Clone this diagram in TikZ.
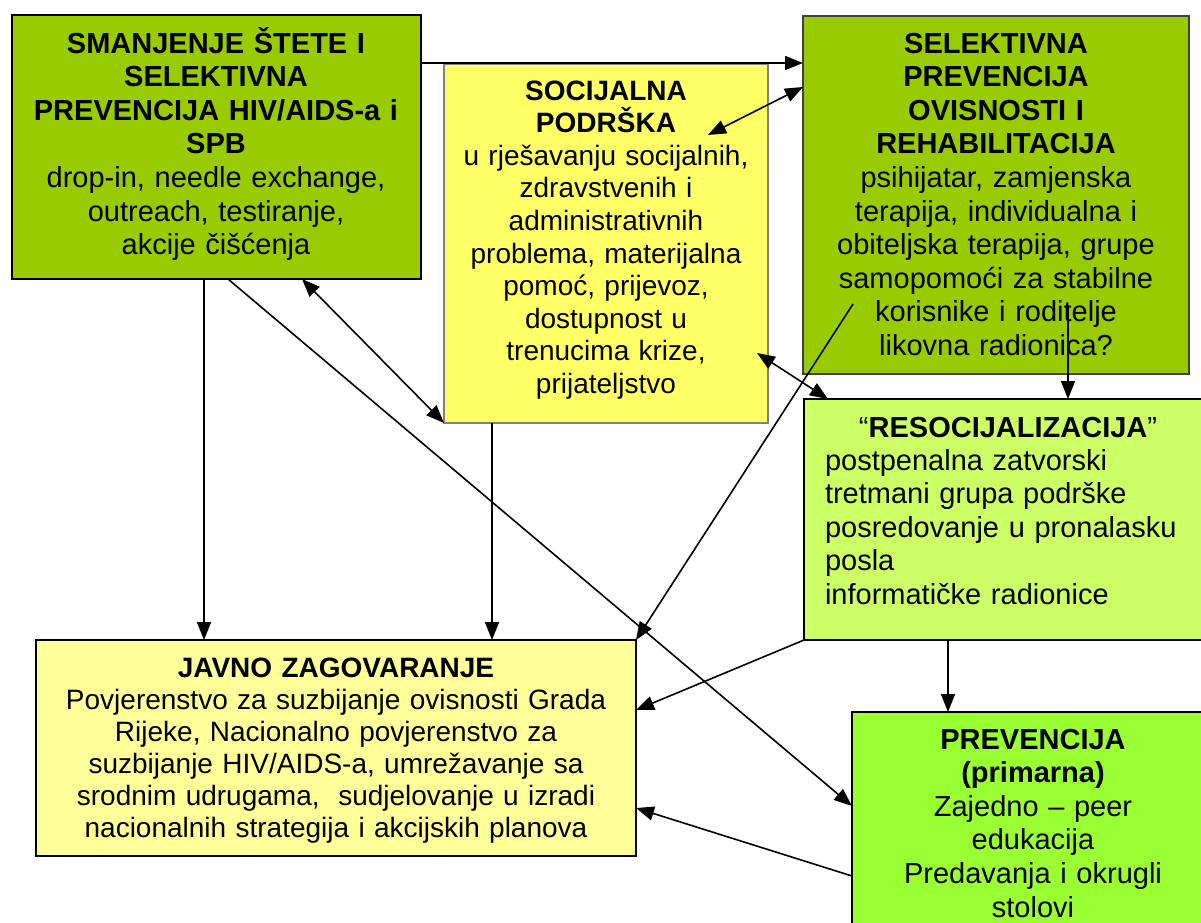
\documentclass[tikz,border=0pt]{standalone}
\usepackage{fontspec}
\setmainfont{Liberation Sans}
\usetikzlibrary{arrows.meta}
\definecolor{cOlive}{HTML}{99CC00}
\definecolor{cYellow}{HTML}{FFFF66}
\definecolor{cPale}{HTML}{FFFF99}
\definecolor{cLime}{HTML}{CCFF66}
\definecolor{cBright}{HTML}{99FF33}
\newcommand{\fstrut}{\rule{0pt}{30pt}}
\tikzset{
  boxshape/.style={rectangle, inner sep=0pt, outer sep=0pt, line width=2pt, draw=black, anchor=north west},
  txt/.style={inner sep=0pt, outer sep=0pt, align=center, text width=#1, anchor=north},
  bigfont/.style={font=\fontsize{29pt}{33.6pt}\selectfont},
  midfont/.style={font=\fontsize{28pt}{32.6pt}\selectfont},
  smallfont/.style={font=\fontsize{28pt}{32pt}\selectfont},
  arr/.style={line width=1.6pt, -{Triangle[length=18pt,width=14pt]}},
  darr/.style={line width=1.6pt, {Triangle[length=18pt,width=14pt]}-{Triangle[length=18pt,width=14pt]}},
}
\begin{document}
\begin{tikzpicture}[x=1pt,y=-1pt]
\useasboundingbox (0,0) rectangle (1201,922);
\clip (0,0) rectangle (1201,922);
\fill[white] (0,0) rectangle (1201,922);

% boxes
\node[boxshape, fill=cOlive, minimum width=409pt, minimum height=264pt] (b1) at (12,15) {};
\node[boxshape, fill=cYellow, draw=gray, line width=1.2pt, minimum width=324pt, minimum height=359pt] (b2) at (444,64) {};
\node[boxshape, fill=cOlive, draw=black!75, minimum width=386pt, minimum height=358pt] (b3) at (803,16) {};
\node[boxshape, fill=cLime, minimum width=408pt, minimum height=241pt] (b4) at (804,399) {};
\node[boxshape, fill=cPale, minimum width=600pt, minimum height=216pt] (b5) at (36,640) {};
\node[boxshape, fill=cBright, minimum width=362pt, minimum height=260pt] (b6) at (852,712) {};

% texts
\node[txt=400pt, bigfont] (t1) at (216,23) {\fstrut\textbf{SMANJENJE ŠTETE I}\\
\textbf{SELEKTIVNA}\\
\textbf{PREVENCIJA HIV/AIDS-a i}\\
\textbf{SPB}\\
drop-in, needle exchange,\\
outreach, testiranje,\\
akcije čišćenja};

\node[txt=320pt, midfont] (t2) at (606,70) {\fstrut\textbf{SOCIJALNA}\\
\textbf{PODRŠKA}\\
u rješavanju socijalnih,\\
zdravstvenih i\\
administrativnih\\
problema, materijalna\\
pomoć, prijevoz,\\
dostupnost u\\
trenucima krize,\\
prijateljstvo};

\node[txt=380pt, bigfont] (t3) at (996,23) {\fstrut\textbf{SELEKTIVNA}\\
\textbf{PREVENCIJA}\\
\textbf{OVISNOSTI I}\\
\textbf{REHABILITACIJA}\\
psihijatar, zamjenska\\
terapija, individualna i\\
obiteljska terapija, grupe\\
samopomoći za stabilne\\
korisnike i roditelje\\
likovna radionica?};

\node[txt=380pt, bigfont] (t4a) at (1008,407) {\fstrut“\textbf{RESOCIJALIZACIJA}”};
\node[txt=380pt, bigfont, align=left, anchor=north west] (t4b) at (825,440) {\fstrut postpenalna zatvorski\\
tretmani grupa podrške\\
posredovanje u pronalasku\\
posla\\
informatičke radionice};

\node[txt=590pt, smallfont] (t5) at (336,647) {\fstrut\textbf{JAVNO ZAGOVARANJE}\\
Povjerenstvo za suzbijanje ovisnosti Grada\\
Rijeke, Nacionalno povjerenstvo za\\
suzbijanje HIV/AIDS-a, umrežavanje sa\\
srodnim udrugama,\ \ sudjelovanje u izradi\\
nacionalnih strategija i akcijskih planova};

\node[txt=350pt, bigfont] (t6) at (1033,719) {\fstrut\textbf{PREVENCIJA}\\
\textbf{(primarna)}\\
Zajedno – peer\\
edukacija\\
Predavanja i okrugli\\
stolovi};

% free ends inside boxes
\coordinate (c2) at (708,135);
\coordinate (c7) at (757,353);
\coordinate (c8) at (853,304);
\coordinate (c9) at (1068,305);

% connectors
\draw[arr] (b1.east |- 0,63) -- (b3.west |- 0,63);
\draw[darr] (c2) -- (b3.west |- 0,87);
\draw[arr] (204,0 |- b1.south) -- (204,0 |- b5.north);
\draw[arr] (228,0 |- b1.south) -- (b6.west |- 0,806);
\draw[darr] (302,0 |- b1.south) -- (b2.south west);
\draw[arr] (492,0 |- b2.south) -- (492,0 |- b5.north);
\draw[darr] (c7) -- (828,0 |- b4.north);
\draw[arr] (c8) -- (b5.north east);
\draw[arr] (c9) -- (1068,0 |- b4.north);
\draw[arr] (b4.south west) -- (b5.east |- 0,710);
\draw[arr] (948,0 |- b4.south) -- (948,0 |- b6.north);
\draw[arr] (b6.west |- 0,876) -- (b5.east |- 0,808);
\end{tikzpicture}
\end{document}
